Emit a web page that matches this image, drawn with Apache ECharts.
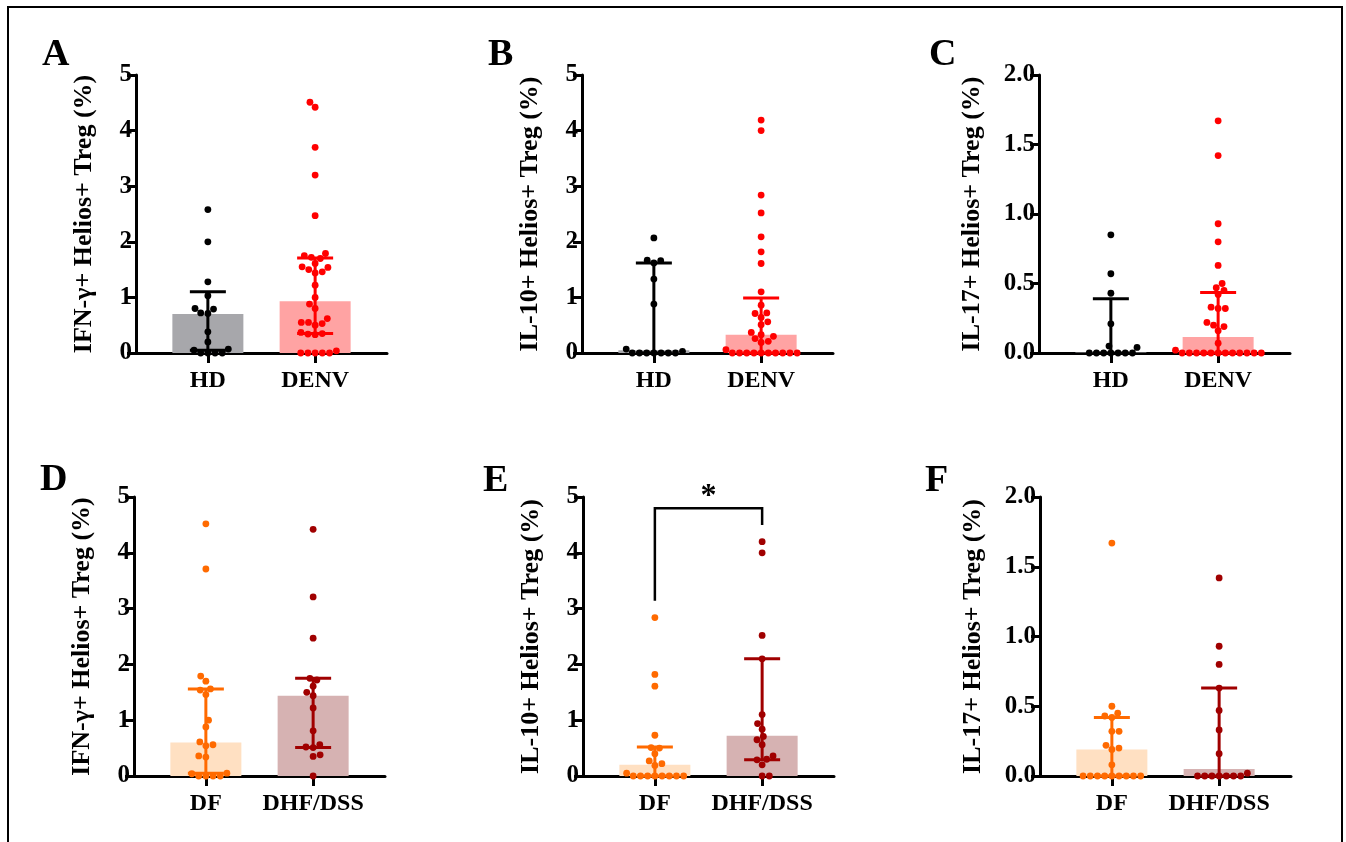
<!DOCTYPE html>
<html><head><meta charset="utf-8">
<script src="https://cdn.jsdelivr.net/npm/echarts@6/dist/echarts.min.js"></script>
<style>html,body{margin:0;padding:0;background:#fff}#c{width:1346px;height:842px}</style>
</head><body><div id="c"></div>
<script>
// ---------- data ----------
const CATS_TOP = ['HD', 'DENV'];
const CATS_BOTTOM = ['DF', 'DHF/DSS'];
const TITLES = ['IFN-γ+ Helios+ Treg (%)', 'IL-10+ Helios+ Treg (%)', 'IL-17+ Helios+ Treg (%)'];
const LETTERS = ['A', 'B', 'C', 'D', 'E', 'F'];
const Y_MAX = [5, 5, 2, 5, 5, 2];
const Y_INTERVAL = [1, 1, 0.5, 1, 1, 0.5];

const A_HD = [2.58, 2.0, 1.28, 1.03, 0.80, 0.79, 0.72, 0.71, 0.38, 0.20, 0.07, 0.05, 0, 0, 0, 0];
const A_DENV = [4.51, 4.42, 3.70, 3.20, 2.47, 1.79, 1.75, 1.72, 1.70, 1.61, 1.55, 1.54, 1.50, 1.46, 1.44, 1.22, 1.0, 0.88, 0.80, 0.62, 0.55, 0.55, 0.53, 0.50, 0.37, 0.35, 0.34, 0.33, 0.04, 0, 0, 0, 0, 0];
const A_BAR = [0.70, 0.93];
const A_ERR_LO = [0.05, 0.35];
const A_ERR_HI = [1.10, 1.71];

const B_HD = [2.07, 1.67, 1.66, 1.62, 1.33, 0.88, 0.07, 0.03, 0, 0, 0, 0, 0, 0, 0];
const B_DENV = [4.19, 4.0, 2.84, 2.52, 2.09, 1.82, 1.61, 1.10, 0.86, 0.72, 0.71, 0.64, 0.56, 0.51, 0.37, 0.33, 0.30, 0.26, 0.21, 0.19, 0.06, 0, 0, 0, 0, 0, 0, 0, 0, 0, 0];
const B_BAR = [0.05, 0.33];
const B_ERR_LO = [0, 0];
const B_ERR_HI = [1.62, 0.99];

const C_HD = [0.85, 0.57, 0.43, 0.21, 0.04, 0.05, 0, 0, 0, 0, 0, 0, 0];
const C_DENV = [1.67, 1.42, 0.93, 0.80, 0.63, 0.50, 0.47, 0.45, 0.42, 0.33, 0.32, 0.32, 0.22, 0.20, 0.19, 0.16, 0.07, 0.02, 0, 0, 0, 0, 0, 0, 0, 0, 0, 0, 0, 0];
const C_BAR = [0.004, 0.115];
const C_ERR_LO = [0, 0];
const C_ERR_HI = [0.39, 0.435];

const D_DF = [4.52, 3.71, 1.79, 1.70, 1.56, 1.54, 1.46, 1.0, 0.88, 0.61, 0.56, 0.54, 0.36, 0.34, 0.05, 0.04, 0, 0, 0, 0];
const D_DHF = [4.42, 3.21, 2.47, 1.75, 1.72, 1.61, 1.50, 1.44, 1.22, 0.81, 0.56, 0.52, 0.51, 0.38, 0.35, 0.0];
const D_BAR = [0.60, 1.44];
const D_ERR_LO = [0.05, 0.51];
const D_ERR_HI = [1.56, 1.75];

const E_DF = [2.84, 1.82, 1.61, 0.73, 0.51, 0.50, 0.40, 0.27, 0.22, 0.19, 0.05, 0, 0, 0, 0, 0, 0, 0, 0];
const E_DHF = [4.2, 4.0, 2.52, 2.1, 1.1, 0.94, 0.84, 0.71, 0.65, 0.56, 0.36, 0.30, 0.29, 0.20, 0, 0];
const E_BAR = [0.20, 0.72];
const E_ERR_LO = [0, 0.29];
const E_ERR_HI = [0.52, 2.1];
const E_BRACKET = [1, 3.14, 4.8, 2, 4.5];   // x1, y1 start, top, x2, y2 end
const E_SIG = '*';

const F_DF = [1.67, 0.50, 0.45, 0.43, 0.42, 0.32, 0.32, 0.22, 0.20, 0.19, 0.08, 0, 0, 0, 0, 0, 0, 0, 0, 0];
const F_DHF = [1.42, 0.93, 0.80, 0.63, 0.47, 0.33, 0.16, 0.02, 0, 0, 0, 0, 0, 0, 0];
const F_BAR = [0.19, 0.05];
const F_ERR_LO = [0, 0];
const F_ERR_HI = [0.42, 0.63];

// ---------- styling ----------
const FONT = '"Liberation Serif", "Times New Roman", serif';
const TOP_DOT = ['#000000', '#ff0000'];
const TOP_BAR = ['#a7a7ab', '#ffa3a3'];
const BOT_DOT = ['#ff6a00', '#a00000'];
const BOT_BAR = ['#ffe0c2', '#d6b2b2'];

const panels = [
  {groups: [A_HD, A_DENV], bar: A_BAR, lo: A_ERR_LO, hi: A_ERR_HI, cats: CATS_TOP, title: TITLES[0], dot: TOP_DOT, barc: TOP_BAR},
  {groups: [B_HD, B_DENV], bar: B_BAR, lo: B_ERR_LO, hi: B_ERR_HI, cats: CATS_TOP, title: TITLES[1], dot: TOP_DOT, barc: TOP_BAR},
  {groups: [C_HD, C_DENV], bar: C_BAR, lo: C_ERR_LO, hi: C_ERR_HI, cats: CATS_TOP, title: TITLES[2], dot: TOP_DOT, barc: TOP_BAR},
  {groups: [D_DF, D_DHF], bar: D_BAR, lo: D_ERR_LO, hi: D_ERR_HI, cats: CATS_BOTTOM, title: TITLES[0], dot: BOT_DOT, barc: BOT_BAR},
  {groups: [E_DF, E_DHF], bar: E_BAR, lo: E_ERR_LO, hi: E_ERR_HI, cats: CATS_BOTTOM, title: TITLES[1], dot: BOT_DOT, barc: BOT_BAR},
  {groups: [F_DF, F_DHF], bar: F_BAR, lo: F_ERR_LO, hi: F_ERR_HI, cats: CATS_BOTTOM, title: TITLES[2], dot: BOT_DOT, barc: BOT_BAR}
];
const GRID_POS = [
  {left: 136, top: 75, width: 251, height: 278},
  {left: 582, top: 75, width: 251, height: 278},
  {left: 1039, top: 75, width: 251, height: 278},
  {left: 134, top: 497, width: 251, height: 279},
  {left: 583, top: 497, width: 251, height: 279},
  {left: 1040, top: 497, width: 251, height: 279}
];
const NAME_GAP = [39, 39, 54, 39, 39, 54];
const LETTER_POS = [[42, 36], [488, 36], [929, 36], [40, 461], [483, 462], [925, 462]];
const BAR_W = 71, CAP_W = 36, DOT = 6.8, DOT_D = 7.2;

const chart = echarts.init(document.getElementById('c'));

const grids = [], xAxes = [], yAxes = [], series = [];
panels.forEach((p, i) => {
  grids.push(Object.assign({containLabel: false}, GRID_POS[i]));
  xAxes.push({
    type: 'value', gridIndex: i, min: 0.33, max: 2.67,
    axisLine: {show: true, lineStyle: {color: '#000', width: 3}},
    axisTick: {show: true, length: 10, lineStyle: {color: '#000', width: 3}, customValues: [1, 2]},
    axisLabel: {show: true, customValues: [1, 2], margin: 16, color: '#000',
      fontFamily: FONT, fontWeight: 'bold', fontSize: 24,
      formatter: v => p.cats[Math.round(v) - 1]},
    splitLine: {show: false}
  });
  yAxes.push({
    type: 'value', gridIndex: i, min: 0, max: Y_MAX[i], interval: Y_INTERVAL[i],
    name: p.title, nameLocation: 'middle', nameGap: NAME_GAP[i],
    nameTextStyle: {fontFamily: FONT, fontWeight: 'bold', fontSize: 26, color: '#000'},
    axisLine: {show: true, lineStyle: {color: '#000', width: 3}},
    axisTick: {show: true, length: 9, lineStyle: {color: '#000', width: 3}},
    axisLabel: {color: '#000', fontFamily: FONT, fontWeight: 'bold', fontSize: 25, margin: 4,
      formatter: v => Y_INTERVAL[i] < 1 ? v.toFixed(1) : String(v)},
    splitLine: {show: false}
  });
  // bars
  series.push({
    type: 'custom', xAxisIndex: i, yAxisIndex: i, z: 1, clip: false,
    data: p.bar.map((v, k) => [k + 1, v, k]),
    renderItem: (params, api) => {
      const x = api.value(0), y = api.value(1), k = api.value(2);
      const a = api.coord([x, 0]), b = api.coord([x, y]);
      return {type: 'rect', shape: {x: a[0] - BAR_W / 2, y: b[1], width: BAR_W, height: a[1] - b[1]},
        style: {fill: p.barc[k]}};
    }
  });
  // dots (filled after layout)
  p.groups.forEach((g, k) => {
    series.push({
      id: 'dots' + i + '_' + k, type: 'scatter', xAxisIndex: i, yAxisIndex: i, z: 3,
      symbolSize: DOT, itemStyle: {color: p.dot[k], opacity: 1}, clip: false,
      data: g.map(v => [k + 1, v])
    });
  });
  // error bars
  series.push({
    type: 'custom', xAxisIndex: i, yAxisIndex: i, z: 4, clip: false,
    data: p.lo.map((v, k) => [k + 1, v, p.hi[k], k]),
    renderItem: (params, api) => {
      const x = api.value(0), lo = api.value(1), hi = api.value(2), k = api.value(3);
      const a = api.coord([x, lo]), b = api.coord([x, hi]);
      const st = {stroke: p.dot[k], lineWidth: 3};
      return {type: 'group', children: [
        {type: 'line', shape: {x1: a[0], y1: a[1], x2: b[0], y2: b[1]}, style: st},
        {type: 'line', shape: {x1: b[0] - CAP_W / 2, y1: b[1], x2: b[0] + CAP_W / 2, y2: b[1]}, style: st},
        {type: 'line', shape: {x1: a[0] - CAP_W / 2, y1: a[1], x2: a[0] + CAP_W / 2, y2: a[1]}, style: st}
      ]};
    }
  });
});

// significance bracket in panel E
series.push({
  type: 'custom', xAxisIndex: 4, yAxisIndex: 4, z: 5, clip: false,
  data: [E_BRACKET],
  renderItem: (params, api) => {
    const p1 = api.coord([api.value(0), api.value(1)]);
    const p2 = api.coord([api.value(0), api.value(2)]);
    const p3 = api.coord([api.value(3), api.value(2)]);
    const p4 = api.coord([api.value(3), api.value(4)]);
    return {type: 'group', children: [
      {type: 'polyline', shape: {points: [p1, p2, p3, p4]}, style: {stroke: '#000', lineWidth: 2.5, fill: null}},
      {type: 'text', x: (p2[0] + p3[0]) / 2, y: p2[1] - 11,
        style: {text: E_SIG, font: 'bold 32px ' + FONT, fill: '#000', align: 'center', verticalAlign: 'middle'}}
    ]};
  }
});

const graphic = [
  {type: 'rect', shape: {x: 8, y: 7, width: 1334, height: 845}, style: {stroke: '#000', lineWidth: 2, fill: null}, silent: true}
];
LETTERS.forEach((L, i) => {
  graphic.push({type: 'text', x: LETTER_POS[i][0], y: LETTER_POS[i][1],
    style: {text: L, font: 'bold 38px ' + FONT, fill: '#000', verticalAlign: 'top'}});
});

chart.setOption({
  animation: false, backgroundColor: '#fff',
  grid: grids, xAxis: xAxes, yAxis: yAxes, series: series, graphic: graphic
});

// beeswarm layout in pixel space, converted back through the axes
function swarm(pys, d) {
  const idx = pys.map((_, i) => i).sort((a, b) => pys[b] - pys[a]);
  const placed = [], off = new Array(pys.length);
  let flip = 1;
  for (const i of idx) {
    const y = pys[i];
    const near = placed.filter(q => Math.abs(q.y - y) < d);
    const cands = [0];
    near.forEach(q => { const dx = Math.sqrt(d * d - (q.y - y) ** 2); cands.push(q.x + dx, q.x - dx); });
    const ok = cands.filter(c => near.every(q => (q.x - c) ** 2 + (q.y - y) ** 2 >= d * d - 0.01));
    ok.sort((a, b) => {
      const da = Math.abs(a) - Math.abs(b);
      if (Math.abs(da) > 0.01) return da;
      return (a * flip > 0) ? -1 : 1;
    });
    const x = ok[0];
    if (Math.abs(x) > 0.01) flip = x > 0 ? -1 : 1;
    placed.push({x: x, y: y});
    off[i] = x;
  }
  return off;
}

const upd = [];
panels.forEach((p, i) => {
  p.groups.forEach((g, k) => {
    const px = g.map(v => chart.convertToPixel({gridIndex: i}, [k + 1, v]));
    const offs = swarm(px.map(q => q[1]), DOT_D);
    const data = g.map((v, j) => {
      const xd = chart.convertFromPixel({gridIndex: i}, [px[j][0] + offs[j], px[j][1]])[0];
      return [xd, v];
    });
    upd.push({id: 'dots' + i + '_' + k, data: data});
  });
});
chart.setOption({series: upd});
</script>
</body></html>
